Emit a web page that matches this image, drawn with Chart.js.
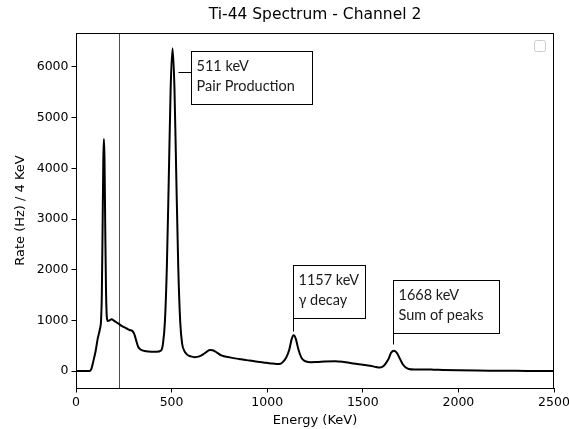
<!DOCTYPE html>
<html><head><meta charset="utf-8">
<script src="https://cdn.jsdelivr.net/npm/chart.js@4.4.0/dist/chart.umd.min.js"></script>
<style>html,body{margin:0;padding:0;background:#fff}#wrap{width:569px;height:429px}</style>
</head><body><div id="wrap"><canvas id="c" width="569" height="429"></canvas></div>
<script>
// ---- data ----
const energies = [0,40,70,80,91,103,113,125,131,135,139,143,146,149,153,157,161,166,176,186,200,213,226,239,252,265,280,295,305,315,325,340,360,380,400,420,445,455,465,475,485,495,505,515,525,535,545,555,565,580,600,622,645,665,685,700,715,735,760,805,850,893,940,980,1020,1050,1070,1085,1100,1116,1128,1139,1150,1163,1178,1195,1224,1260,1300,1355,1400,1450,1500,1538,1570,1590,1610,1625,1634,1648,1663,1680,1695,1710,1725,1740,1770,1820,1870,1920,2000,2100,2200,2300,2400,2500];
const rates    = [0,0,0,40,200,400,630,830,1000,1500,2800,4200,4580,4200,2800,1600,1080,990,1000,1023,990,958,925,891,865,840,810,790,730,600,480,420,395,385,380,380,406,540,976,2030,3750,5570,6370,5570,3750,2030,976,540,410,330,290,275,290,330,385,415,410,370,310,270,240,216,190,171,150,140,145,190,270,430,630,705,630,430,270,200,175,178,188,195,180,150,125,105,80,70,105,180,235,360,400,350,235,130,70,40,30,32,28,22,15,10,7,4,2,0];
const xTicks = [0,500,1000,1500,2000,2500];
const yTicks = [0,1000,2000,3000,4000,5000,6000];
const markerEnergy = 226;
const annotationTexts = [["511 keV","Pair Production"],["1157 keV","γ decay"],["1668 keV","Sum of peaks"]];
const annotationAnchors = [[533,5895],[1137,793],[1659,531]];
const titleText = "Ti-44 Spectrum - Channel 2";
const xLabel = "Energy (KeV)";
const yLabel = "Rate (Hz) / 4 KeV";

// ---- layout (not data) ----
const boxLayout = [
  {left:600, top:6320, w:121, h:53, connector:'h'},
  {left:1137, top:2091, w:72, h:53, connector:'v'},
  {left:1659, top:1796, w:106, h:53, connector:'v'}
];

const points = energies.map((e,i)=>({x:e,y:rates[i]}));

const deco = {
  id:'deco',
  beforeDatasetsDraw(chart){
    const {ctx, chartArea:a, scales:{x}} = chart;
    const px = Math.round(x.getPixelForValue(markerEnergy))+0.5;
    ctx.save();
    ctx.strokeStyle='#ff0000'; ctx.lineWidth=1;
    ctx.beginPath(); ctx.moveTo(px,a.top); ctx.lineTo(px,a.bottom); ctx.stroke();
    ctx.restore();
  },
  afterDraw(chart){
    const {ctx, chartArea:a, scales:{x,y}} = chart;
    ctx.save();
    ctx.strokeStyle='#000'; ctx.lineWidth=1;
    ctx.beginPath();
    ctx.moveTo(a.left, a.top+0.5); ctx.lineTo(a.right, a.top+0.5);
    ctx.moveTo(a.right-0.5, a.top); ctx.lineTo(a.right-0.5, a.bottom);
    ctx.stroke();
    ctx.strokeStyle='#cccccc'; ctx.fillStyle='#fff';
    const lx=a.right-19.5, ly=a.top+7.5, ls=11, r=2;
    ctx.beginPath();
    ctx.moveTo(lx+r,ly); ctx.lineTo(lx+ls-r,ly); ctx.quadraticCurveTo(lx+ls,ly,lx+ls,ly+r);
    ctx.lineTo(lx+ls,ly+ls-r); ctx.quadraticCurveTo(lx+ls,ly+ls,lx+ls-r,ly+ls);
    ctx.lineTo(lx+r,ly+ls); ctx.quadraticCurveTo(lx,ly+ls,lx,ly+ls-r);
    ctx.lineTo(lx,ly+r); ctx.quadraticCurveTo(lx,ly,lx+r,ly);
    ctx.fill(); ctx.stroke();
    ctx.fillStyle='#000'; ctx.font='15.5px "DejaVu Sans"'; ctx.textAlign='center'; ctx.textBaseline='middle';
    ctx.fillText(titleText,(a.left+a.right)/2,15);
    annotationTexts.forEach((lines,i)=>{
      const L = boxLayout[i];
      const bx = Math.round(x.getPixelForValue(L.left))+0.5;
      const by = Math.round(y.getPixelForValue(L.top))+0.5;
      const ax = Math.round(x.getPixelForValue(annotationAnchors[i][0]))+0.5;
      const ay = Math.round(y.getPixelForValue(annotationAnchors[i][1]))+0.5;
      ctx.strokeStyle='#000'; ctx.lineWidth=1;
      ctx.beginPath();
      if (L.connector==='h'){ ctx.moveTo(ax,ay); ctx.lineTo(bx,ay); }
      else { ctx.moveTo(ax,ay); ctx.lineTo(ax,by+L.h); }
      ctx.stroke();
      ctx.fillStyle='#fff';
      ctx.fillRect(bx,by,L.w,L.h);
      ctx.strokeRect(bx,by,L.w,L.h);
      ctx.fillStyle='#1a1a1a'; ctx.font='14.5px Lato'; ctx.textAlign='left'; ctx.textBaseline='middle';
      lines.forEach((t,j)=>ctx.fillText(t,bx+5,by+15+j*20));
    });
    ctx.restore();
  }
};

const plain = v => String(v);

new Chart(document.getElementById('c'),{
  type:'line',
  data:{datasets:[{data:points,borderColor:'#000',borderWidth:2,pointRadius:0,fill:false,cubicInterpolationMode:'monotone',borderJoinStyle:'round'}]},
  options:{
    responsive:false, animation:false, events:[],
    layout:{padding:{top:33,right:15,left:0,bottom:0}},
    plugins:{legend:{display:false},title:{display:false},tooltip:{enabled:false}},
    scales:{
      x:{type:'linear',min:0,max:2500,
        afterBuildTicks:s=>{s.ticks=xTicks.map(v=>({value:v}));},
        afterFit:s=>{s.height=41;s.paddingLeft=0;s.paddingRight=0;},
        grid:{display:true,drawOnChartArea:false,drawTicks:true,tickLength:4.5,color:'#000',tickColor:'#000',lineWidth:1},
        border:{display:true,color:'#000',width:1},
        ticks:{color:'#000',font:{family:'DejaVu Sans',size:12.5},padding:3,maxRotation:0,autoSkip:false,callback:plain},
        title:{display:true,text:xLabel,color:'#000',font:{family:'DejaVu Sans',size:13},padding:{top:0,bottom:1}}
      },
      y:{type:'linear',min:-334,max:6670,
        afterBuildTicks:s=>{s.ticks=yTicks.map(v=>({value:v}));},
        afterFit:s=>{s.width=76;s.paddingTop=0;s.paddingBottom=0;},
        grid:{display:true,drawOnChartArea:false,drawTicks:true,tickLength:4.5,color:'#000',tickColor:'#000',lineWidth:1},
        border:{display:true,color:'#000',width:1},
        ticks:{color:'#000',font:{family:'DejaVu Sans',size:12.5},padding:3,autoSkip:false,callback:plain},
        title:{display:true,text:yLabel,color:'#000',font:{family:'DejaVu Sans',size:13},padding:{top:13,bottom:0}}
      }
    }
  },
  plugins:[deco]
});
</script></body></html>
